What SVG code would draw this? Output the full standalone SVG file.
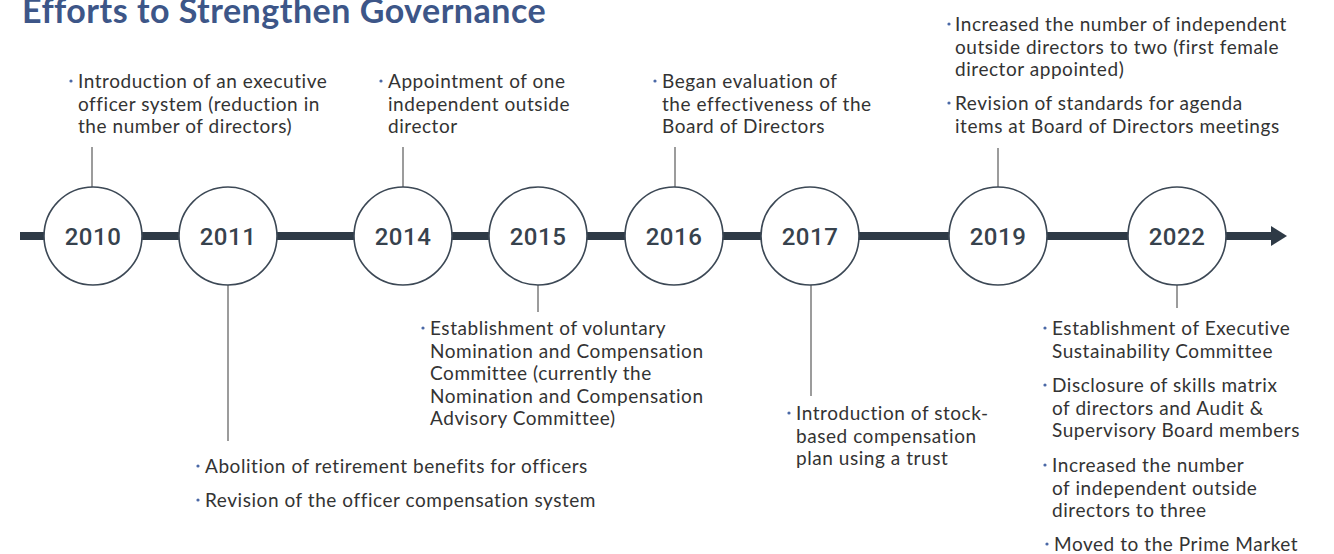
<svg xmlns="http://www.w3.org/2000/svg" width="1334" height="554" viewBox="0 0 1334 554">
<style>
.title{font-family:Lato,"Liberation Sans",sans-serif;font-weight:700;font-size:34px;letter-spacing:0.5px;fill:#3d5688}
.yr{font-family:Roboto,"Liberation Sans",sans-serif;font-weight:500;font-size:24px;letter-spacing:0.5px;fill:#37424d;text-anchor:middle}
.lbl{font-family:Lato,"Liberation Sans",sans-serif;font-size:19px;letter-spacing:0.55px;fill:#333333}
.node circle{fill:#ffffff;stroke:#3c4855;stroke-width:1.6}
.conn{stroke:#5a5a5a;stroke-width:1.2;fill:none}
.dot{fill:#4a68a6}
</style>
<defs>
<marker id="arr" viewBox="0 0 16 20" refX="1" refY="10" markerWidth="16" markerHeight="20" markerUnits="userSpaceOnUse" orient="auto">
<path d="M0,0 L16,10 L0,20 Z" fill="#2e3a46"/>
</marker>
</defs>
<rect width="1334" height="554" fill="#ffffff"/>
<text class="title" x="22" y="23">Efforts to Strengthen Governance</text>

<g id="connectors">
<line x1="20" y1="236" x2="1272" y2="236" stroke="#2e3a46" stroke-width="8" marker-end="url(#arr)"/>
<line class="conn" x1="92" y1="147" x2="92" y2="187"/>
<line class="conn" x1="403" y1="147" x2="403" y2="187"/>
<line class="conn" x1="675" y1="147" x2="675" y2="187"/>
<line class="conn" x1="998" y1="148" x2="998" y2="187"/>
<line class="conn" x1="228" y1="285" x2="228" y2="441"/>
<line class="conn" x1="538" y1="285" x2="538" y2="312"/>
<line class="conn" x1="811" y1="285" x2="811" y2="396"/>
<line class="conn" x1="1177" y1="285" x2="1177" y2="308"/>
</g>

<g id="n2010" class="node"><circle cx="93" cy="236" r="49"/><text class="yr" x="93" y="244.5">2010</text></g>
<g id="n2011" class="node"><circle cx="228" cy="236" r="49"/><text class="yr" x="228" y="244.5">2011</text></g>
<g id="n2014" class="node"><circle cx="403" cy="236" r="49"/><text class="yr" x="403" y="244.5">2014</text></g>
<g id="n2015" class="node"><circle cx="538" cy="236" r="49"/><text class="yr" x="538" y="244.5">2015</text></g>
<g id="n2016" class="node"><circle cx="674" cy="236" r="49"/><text class="yr" x="674" y="244.5">2016</text></g>
<g id="n2017" class="node"><circle cx="810" cy="236" r="49"/><text class="yr" x="810" y="244.5">2017</text></g>
<g id="n2019" class="node"><circle cx="998" cy="236" r="49"/><text class="yr" x="998" y="244.5">2019</text></g>
<g id="n2022" class="node"><circle cx="1177" cy="236" r="49"/><text class="yr" x="1177" y="244.5">2022</text></g>

<g id="t2010">
<circle class="dot" cx="71" cy="81" r="1.6"/>
<text class="lbl" x="78" y="88">Introduction of an executive</text>
<text class="lbl" x="78" y="110.5">officer system (reduction in</text>
<text class="lbl" x="78" y="133">the number of directors)</text>
</g>
<g id="t2014">
<circle class="dot" cx="381" cy="81" r="1.6"/>
<text class="lbl" x="388" y="88">Appointment of one</text>
<text class="lbl" x="388" y="110.5">independent outside</text>
<text class="lbl" x="388" y="133">director</text>
</g>
<g id="t2016">
<circle class="dot" cx="655" cy="81" r="1.6"/>
<text class="lbl" x="662" y="88">Began evaluation of</text>
<text class="lbl" x="662" y="110.5">the effectiveness of the</text>
<text class="lbl" x="662" y="133">Board of Directors</text>
</g>
<g id="t2019">
<circle class="dot" cx="949" cy="24" r="1.6"/>
<text class="lbl" x="955" y="31">Increased the number of independent</text>
<text class="lbl" x="955" y="53.5">outside directors to two (first female</text>
<text class="lbl" x="955" y="76">director appointed)</text>
<circle class="dot" cx="949" cy="103" r="1.6"/>
<text class="lbl" x="955" y="110">Revision of standards for agenda</text>
<text class="lbl" x="955" y="132.5">items at Board of Directors meetings</text>
</g>
<g id="t2011">
<circle class="dot" cx="198" cy="466" r="1.6"/>
<text class="lbl" x="205" y="473">Abolition of retirement benefits for officers</text>
<circle class="dot" cx="198" cy="500" r="1.6"/>
<text class="lbl" x="205" y="507">Revision of the officer compensation system</text>
</g>
<g id="t2015">
<circle class="dot" cx="423" cy="328" r="1.6"/>
<text class="lbl" x="430" y="335">Establishment of voluntary</text>
<text class="lbl" x="430" y="357.5">Nomination and Compensation</text>
<text class="lbl" x="430" y="380">Committee (currently the</text>
<text class="lbl" x="430" y="402.5">Nomination and Compensation</text>
<text class="lbl" x="430" y="425">Advisory Committee)</text>
</g>
<g id="t2017">
<circle class="dot" cx="789" cy="413" r="1.6"/>
<text class="lbl" x="796" y="420">Introduction of stock-</text>
<text class="lbl" x="796" y="442.5">based compensation</text>
<text class="lbl" x="796" y="465">plan using a trust</text>
</g>
<g id="t2022">
<circle class="dot" cx="1045" cy="328" r="1.6"/>
<text class="lbl" x="1052" y="335">Establishment of Executive</text>
<text class="lbl" x="1052" y="357.5">Sustainability Committee</text>
<circle class="dot" cx="1045" cy="385" r="1.6"/>
<text class="lbl" x="1052" y="392">Disclosure of skills matrix</text>
<text class="lbl" x="1052" y="414.5">of directors and Audit &amp;</text>
<text class="lbl" x="1052" y="437">Supervisory Board members</text>
<circle class="dot" cx="1045" cy="465" r="1.6"/>
<text class="lbl" x="1052" y="472">Increased the number</text>
<text class="lbl" x="1052" y="494.5">of independent outside</text>
<text class="lbl" x="1052" y="517">directors to three</text>
<circle class="dot" cx="1047" cy="544" r="1.6"/>
<text class="lbl" x="1054" y="551">Moved to the Prime Market</text>
</g>
</svg>
